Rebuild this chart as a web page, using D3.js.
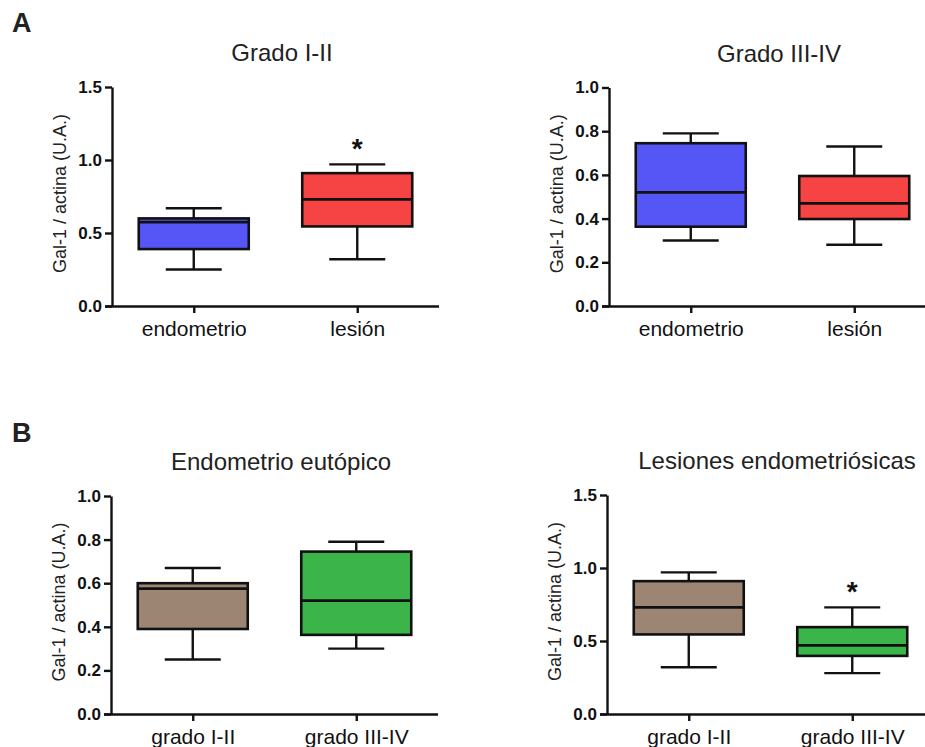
<!DOCTYPE html>
<html>
<head>
<meta charset="utf-8">
<script src="https://cdn.jsdelivr.net/npm/d3@7"></script>
<style>
  body { margin: 0; background: white; }
  svg { display: block; font-family: "Liberation Sans", Arial, sans-serif; }
</style>
</head>
<body>
<div id="chart"></div>
<script>
// box summaries: [min, q1, median, q3, max]
const tissueGroups = ["endometrio", "lesión"];
const gradeGroups = ["grado I-II", "grado III-IV"];
const endometrioGradoI_II = [0.25, 0.39, 0.575, 0.60, 0.67];
const lesionGradoI_II = [0.32, 0.545, 0.73, 0.91, 0.97];
const endometrioGradoIII_IV = [0.30, 0.363, 0.52, 0.745, 0.79];
const lesionGradoIII_IV = [0.28, 0.398, 0.47, 0.595, 0.73];
const panelTitles = ["Grado I-II", "Grado III-IV", "Endometrio eutópico", "Lesiones endometriósicas"];
const yMaxes = [1.5, 1.0, 1.0, 1.5];
const yTickSteps = [0.5, 0.2, 0.2, 0.5];
// which box in each panel carries a "*"
const starred = [[false, true], [false, false], [false, false], [false, true]];

const W = 925, H = 747;
const FILLS = {
  blue: "#5656f7",
  red: "#f64343",
  brown: "#9c8673",
  green: "#3bb54a",
};

const svg = d3.select("#chart")
  .append("svg")
  .attr("width", W)
  .attr("height", H)
  .attr("viewBox", [0, 0, W, H]);

svg.append("text").attr("x", 12).attr("y", 32)
  .style("font-size", "27px").style("font-weight", 700).attr("fill", "#222").text("A");
svg.append("text").attr("x", 12).attr("y", 442)
  .style("font-size", "27px").style("font-weight", 700).attr("fill", "#222").text("B");

const panels = [
  { left: 112, right: 439, top: 87, bottom: 306, groups: tissueGroups,
    boxes: [endometrioGradoI_II, lesionGradoI_II], fills: [FILLS.blue, FILLS.red] },
  { left: 609, right: 936, top: 87.5, bottom: 306, groups: tissueGroups,
    boxes: [endometrioGradoIII_IV, lesionGradoIII_IV], fills: [FILLS.blue, FILLS.red] },
  { left: 111, right: 438, top: 496, bottom: 714, groups: gradeGroups,
    boxes: [endometrioGradoI_II, endometrioGradoIII_IV], fills: [FILLS.brown, FILLS.green] },
  { left: 607, right: 934, top: 495, bottom: 714, groups: gradeGroups,
    boxes: [lesionGradoI_II, lesionGradoIII_IV], fills: [FILLS.brown, FILLS.green] },
];

panels.forEach((p, i) => drawPanel(p, i));

function drawPanel(p, i) {
  const g = svg.append("g");
  const y = d3.scaleLinear().domain([0, yMaxes[i]]).range([p.bottom, p.top]);
  const x = d3.scalePoint().domain(p.groups).range([p.left, p.right]).padding(0.5);
  const boxW = 110, capW = 56;

  // title
  g.append("text")
    .attr("x", p.left + 170)
    .attr("y", p.top - 26)
    .attr("text-anchor", "middle")
    .style("font-size", "24px")
    .attr("fill", "#222")
    .text(panelTitles[i]);

  // y label
  g.append("text")
    .attr("transform", `translate(${p.left - 52}, ${(p.top + p.bottom) / 2 - 3}) rotate(-90)`)
    .attr("text-anchor", "middle")
    .attr("dy", "0.35em")
    .style("font-size", "18px")
    .attr("fill", "#222")
    .text("Gal-1 / actina (U.A.)");

  const ticks = d3.range(0, yMaxes[i] + 1e-9, yTickSteps[i]);
  const yAxis = g.append("g")
    .attr("transform", `translate(${p.left},0)`)
    .call(d3.axisLeft(y).tickValues(ticks).tickFormat(d3.format(".1f")).tickSize(7).tickSizeOuter(0).tickPadding(3));
  yAxis.selectAll("text")
    .style("font-size", "17px").style("font-weight", 700).attr("fill", "#111")
    .style("font-family", "'Liberation Sans', Arial, sans-serif");

  const xAxis = g.append("g")
    .attr("transform", `translate(0,${p.bottom})`)
    .call(d3.axisBottom(x).tickSize(7).tickSizeOuter(0).tickPadding(8));
  xAxis.selectAll("text")
    .style("font-size", "21px").attr("fill", "#111")
    .style("font-family", "'Liberation Sans', Arial, sans-serif");
  xAxis.select(".domain").attr("d", `M${p.left - 7},0.5H${p.right}`);

  [yAxis, xAxis].forEach(a => {
    a.selectAll(".domain, .tick line").attr("stroke", "#111").attr("stroke-width", 2.4);
  });

  p.groups.forEach((name, j) => {
    const [mn, q1, md, q3, mx] = p.boxes[j];
    const cx = x(name);
    const bg = g.append("g").attr("stroke", "#111").attr("stroke-width", 2.4);
    // whiskers
    bg.append("line").attr("x1", cx).attr("x2", cx).attr("y1", y(mx)).attr("y2", y(q3));
    bg.append("line").attr("x1", cx).attr("x2", cx).attr("y1", y(q1)).attr("y2", y(mn));
    bg.append("line").attr("x1", cx - capW / 2).attr("x2", cx + capW / 2).attr("y1", y(mx)).attr("y2", y(mx));
    bg.append("line").attr("x1", cx - capW / 2).attr("x2", cx + capW / 2).attr("y1", y(mn)).attr("y2", y(mn));
    // box
    bg.append("rect")
      .attr("x", cx - boxW / 2).attr("width", boxW)
      .attr("y", y(q3)).attr("height", y(q1) - y(q3))
      .attr("fill", p.fills[j]).attr("stroke-width", 2.6);
    bg.append("line").attr("x1", cx - boxW / 2).attr("x2", cx + boxW / 2)
      .attr("y1", y(md)).attr("y2", y(md)).attr("stroke-width", 2.8);

    if (starred[i][j]) {
      g.append("text")
        .attr("x", cx).attr("y", y(mx) - 6)
        .attr("text-anchor", "middle")
        .style("font-size", "28px").style("font-weight", 700)
        .attr("fill", "#111")
        .text("*");
    }
  });
}
</script>
</body>
</html>
